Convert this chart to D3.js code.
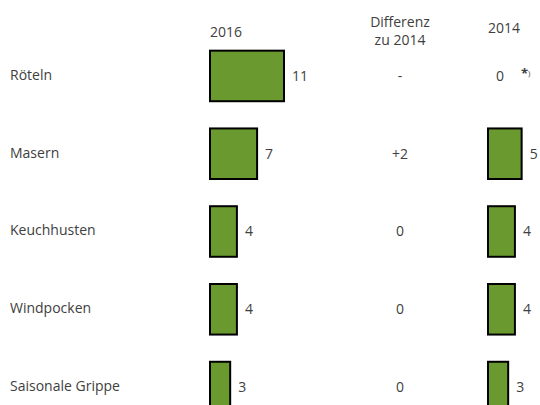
<!DOCTYPE html>
<html>
<head>
<meta charset="UTF-8">
<style>
  body { margin: 0; background: #fff; }
  text { font-family: "Open Sans", sans-serif; font-size: 14px; fill: #404040; }
  .bar { fill: #6a9a2f; stroke: #000; stroke-width: 2px; }
</style>
</head>
<body>
<svg id="chart"></svg>
<script src="https://d3js.org/d3.v7.min.js"></script>
<script>
const categories = ["Röteln", "Masern", "Keuchhusten", "Windpocken", "Saisonale Grippe"];
const values2016 = [11, 7, 4, 4, 3];
const values2014 = [0, 5, 4, 4, 3];
const diffLabels = ["-", "+2", "0", "0", "0"];
const notes2014 = ["*", "", "", "", ""];

let width = 540, height = 405;
let svg = d3.select("#chart").attr("width", width).attr("height", height);

// rows
let y = d3.scaleBand()
    .domain(categories)
    .range([39, 424])
    .paddingInner(0.35)
    .paddingOuter(0.15);

// bar length, same for both years
let w = d3.scaleLinear().domain([0, 11]).range([0, 74]);

let x2016 = 210, xDiff = 400, x2014 = 488;

// headers
svg.append("text").attr("x", x2016).attr("y", 37).text("2016");
svg.append("text").attr("x", xDiff).attr("y", 27).attr("text-anchor", "middle").text("Differenz");
svg.append("text").attr("x", xDiff).attr("y", 45).attr("text-anchor", "middle").text("zu 2014");
svg.append("text").attr("x", x2014).attr("y", 33).text("2014");

let rows = svg.selectAll("g.row")
    .data(categories)
    .enter()
    .append("g")
    .attr("class", "row")
    .attr("transform", d => "translate(0," + y(d) + ")");

let mid = y.bandwidth() / 2;

rows.append("text")
    .attr("x", 10).attr("y", mid - 1).attr("dy", "0.35em")
    .text(d => d);

rows.append("rect")
    .attr("class", "bar")
    .attr("x", x2016).attr("y", 0)
    .attr("width", (d, i) => w(values2016[i]))
    .attr("height", y.bandwidth());

rows.append("text")
    .attr("x", (d, i) => x2016 + w(values2016[i]) + 8)
    .attr("y", mid).attr("dy", "0.35em")
    .text((d, i) => values2016[i]);

rows.append("text")
    .attr("x", xDiff).attr("y", mid).attr("dy", "0.35em")
    .attr("text-anchor", "middle")
    .text((d, i) => diffLabels[i]);

rows.filter((d, i) => values2014[i] > 0)
    .append("rect")
    .attr("class", "bar")
    .attr("x", x2014).attr("y", 0)
    .attr("width", d => w(values2014[categories.indexOf(d)]))
    .attr("height", y.bandwidth());

rows.append("text")
    .attr("x", (d, i) => x2014 + w(values2014[i]) + 8)
    .attr("y", mid).attr("dy", "0.35em")
    .text((d, i) => values2014[i]);

// footnote mark
let note = rows.filter((d, i) => notes2014[i] !== "")
    .append("text")
    .attr("x", 521).attr("y", mid + 2);
note.append("tspan")
    .style("font-weight", "bold").style("font-size", "13px")
    .text((d) => notes2014[categories.indexOf(d)]);
note.append("tspan")
    .attr("dy", -2)
    .style("font-size", "8px")
    .text(")");
</script>
</body>
</html>
